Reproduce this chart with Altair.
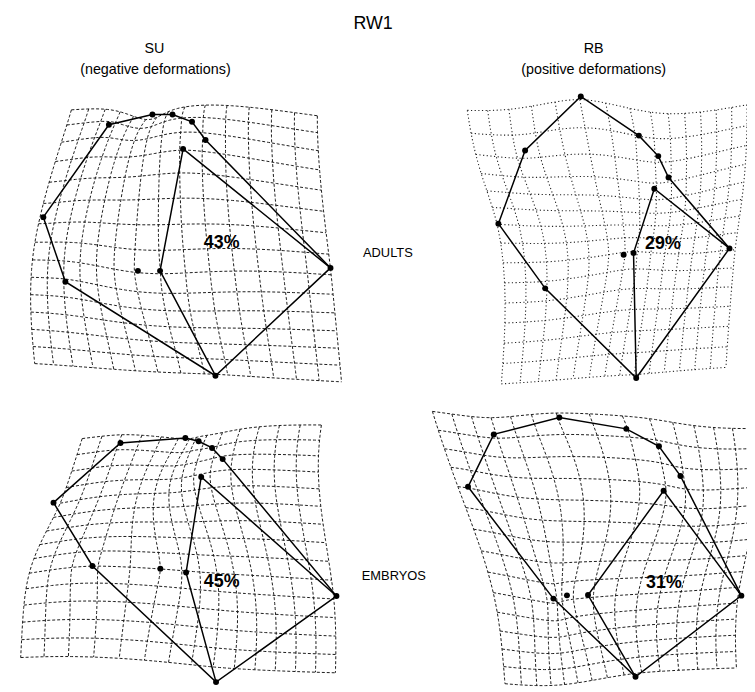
import numpy as np
import pandas as pd
import altair as alt

# ---- landmark coordinates (image pixels) ----
# order: G(left), A, B, C, D, E, K(right), L(bottom), H, F(inner apex), J(inner), I(isolated)
SU_AD_X = [43.7, 110, 154, 174.3, 194, 207.7, 334, 217.7, 66, 185, 161.7, 139.3]
SU_AD_Y = [215.7, 122.3, 112, 112, 119.3, 137.7, 267, 376, 281, 146.7, 270, 270]
RB_AD_X = [503.7, 530.7, 587, 645.7, 665.3, 675.7, 737.3, 643, 551, 661.3, 640.3, 630.3]
RB_AD_Y = [222.3, 148.3, 93.7, 133.3, 154, 175.7, 247.3, 378.3, 287.7, 187, 252, 253.7]
SU_EM_X = [54, 121.7, 187.3, 200.7, 214.3, 225, 340, 218.3, 93.3, 203.3, 188, 162]
SU_EM_Y = [504.3, 444, 439, 442.3, 449, 460.3, 598.7, 685.7, 568.3, 478.3, 575, 571]
RB_EM_X = [473, 499, 565.3, 633, 666, 687.7, 749.3, 642.3, 559.3, 670.7, 594.3, 573]
RB_EM_Y = [488.3, 435.3, 418.3, 429.7, 447.3, 477.3, 598.3, 680.3, 601.3, 492.3, 597.7, 598]

# grid corners: TL, TR, BL, BR
SU_AD_CX = [66, 323, 32, 340]
SU_AD_CY = [101, 103, 371, 378]
RB_AD_CX = [466, 751, 508, 738]
RB_AD_CY = [108, 100, 382, 368]
SU_EM_CX = [75, 327, 32, 338]
SU_EM_CY = [440, 427, 673, 664]
RB_EM_CX = [452, 753, 518, 748]
RB_EM_CY = [417, 430, 689, 674]

N_LINES = 15
OUTER = [0, 1, 2, 3, 4, 5, 6, 7, 8, 0]
INNER = [6, 9, 10, 7]

PCT_LABELS = ["43%", "29%", "45%", "31%"]
PCT_X = [224, 670, 224, 671]
PCT_Y = [242, 243, 585, 586]

LABELS = ["RW1", "SU", "(negative deformations)", "RB", "(positive deformations)", "ADULTS", "EMBRYOS"]
LAB_X = [377, 156, 157, 600, 600, 392, 398]
LAB_Y = [21, 46, 67, 46, 67, 252, 578]
LAB_SIZE = [18, 14.5, 14.5, 14.5, 14.5, 13, 13]


def tps_fit(src, dst):
    n = len(src)
    d = np.sqrt(((src[:, None, :] - src[None, :, :]) ** 2).sum(-1))
    dd = np.where(d > 0, d, 1.0)
    K = np.where(d > 0, d ** 2 * np.log(dd ** 2), 0.0)
    P = np.hstack([np.ones((n, 1)), src])
    L = np.zeros((n + 3, n + 3))
    L[:n, :n] = K
    L[:n, n:] = P
    L[n:, :n] = P.T
    Y = np.vstack([dst, np.zeros((3, 2))])
    coef = np.linalg.solve(L, Y)
    return src, coef


def tps_apply(model, pts):
    src, coef = model
    n = len(src)
    d = np.sqrt(((pts[:, None, :] - src[None, :, :]) ** 2).sum(-1))
    dd = np.where(d > 0, d, 1.0)
    U = np.where(d > 0, d ** 2 * np.log(dd ** 2), 0.0)
    return U @ coef[:n] + coef[n] + pts @ coef[n + 1:]


def consensus(a, b):
    ca = a - a.mean(0)
    cb = b - b.mean(0)
    sa = np.sqrt((ca ** 2).sum())
    sb = np.sqrt((cb ** 2).sum())
    return (ca / sa + cb / sb) / 2 * (sa + sb) / 2


panels = [
    ("p1", SU_AD_X, SU_AD_Y, SU_AD_CX, SU_AD_CY),
    ("p2", RB_AD_X, RB_AD_Y, RB_AD_CX, RB_AD_CY),
    ("p3", SU_EM_X, SU_EM_Y, SU_EM_CX, SU_EM_CY),
    ("p4", RB_EM_X, RB_EM_Y, RB_EM_CX, RB_EM_CY),
]
arr = {p[0]: np.column_stack([p[1], p[2]]).astype(float) for p in panels}
cons = {
    "p1": consensus(arr["p1"], arr["p2"]),
    "p2": consensus(arr["p1"], arr["p2"]),
    "p3": consensus(arr["p3"], arr["p4"]),
    "p4": consensus(arr["p3"], arr["p4"]),
}

grid_rows = []
for name, lx, ly, cx, cy in panels:
    P = arr[name]
    M = cons[name]
    inv = tps_fit(P, M)
    fwd = tps_fit(M, P)
    corners = tps_apply(inv, np.column_stack([cx, cy]).astype(float))
    x0 = (corners[0, 0] + corners[2, 0]) / 2
    x1 = (corners[1, 0] + corners[3, 0]) / 2
    y0 = (corners[0, 1] + corners[1, 1]) / 2
    y1 = (corners[2, 1] + corners[3, 1]) / 2
    xs = np.linspace(x0, x1, N_LINES)
    ys = np.linspace(y0, y1, N_LINES)
    t = np.linspace(0, 1, 60)
    for i in range(N_LINES):
        pts = np.column_stack([x0 + (x1 - x0) * t, np.full_like(t, ys[i])])
        w = tps_apply(fwd, pts)
        for k, (a, b) in enumerate(w):
            grid_rows.append({"panel": name, "line": f"{name}h{i}", "ord": k, "x": a, "y": b})
        pts = np.column_stack([np.full_like(t, xs[i]), y0 + (y1 - y0) * t])
        w = tps_apply(fwd, pts)
        for k, (a, b) in enumerate(w):
            grid_rows.append({"panel": name, "line": f"{name}v{i}", "ord": k, "x": a, "y": b})
grid_df = pd.DataFrame(grid_rows)

seg_rows = []
pt_rows = []
for name, lx, ly, cx, cy in panels:
    for sname, idx in (("outer", OUTER), ("inner", INNER)):
        for k, j in enumerate(idx):
            seg_rows.append({"seg": f"{name}{sname}", "ord": k, "x": lx[j], "y": ly[j]})
    for j in range(len(lx)):
        pt_rows.append({"x": lx[j], "y": ly[j]})
seg_df = pd.DataFrame(seg_rows)
pt_df = pd.DataFrame(pt_rows)

XS = alt.Scale(domain=[8, 755])
YS = alt.Scale(domain=[8, 692], reverse=True)


def X(f="x"):
    return alt.X(f + ":Q", scale=XS, axis=None)


def Y(f="y"):
    return alt.Y(f + ":Q", scale=YS, axis=None)


grid_main = alt.Chart(grid_df[grid_df.panel != "p2"]).mark_line(
    strokeDash=[3, 2], strokeWidth=1.0, color="#1a1a1a"
).encode(x=X(), y=Y(), detail="line:N", order="ord:Q")

grid_p2 = alt.Chart(grid_df[grid_df.panel == "p2"]).mark_line(
    strokeDash=[1.2, 2.5], strokeWidth=1.1, color="#222222"
).encode(x=X(), y=Y(), detail="line:N", order="ord:Q")

segs = alt.Chart(seg_df).mark_line(strokeWidth=1.5, color="black").encode(
    x=X(), y=Y(), detail="seg:N", order="ord:Q"
)
pts = alt.Chart(pt_df).mark_circle(size=36, color="black", opacity=1).encode(x=X(), y=Y())

pct_df = pd.DataFrame({"x": PCT_X, "y": PCT_Y, "t": PCT_LABELS})
pct = alt.Chart(pct_df).mark_text(
    font="Liberation Sans", fontSize=18, fontWeight="bold", color="black", baseline="middle"
).encode(x=X(), y=Y(), text="t:N")

lab_df = pd.DataFrame({"x": LAB_X, "y": LAB_Y, "t": LABELS, "s": LAB_SIZE})
labs = alt.Chart(lab_df).mark_text(
    font="Liberation Sans", color="black", baseline="middle"
).encode(x=X(), y=Y(), text="t:N", size=alt.Size("s:Q", scale=None, legend=None))

chart = alt.layer(grid_main, grid_p2, segs, pts, pct, labs).properties(
    width=747, height=684, padding=0, autosize=alt.AutoSizeParams(type="none")
).configure_view(stroke=None)

chart.save("out.html", embed_options={"renderer": "svg", "actions": False})
